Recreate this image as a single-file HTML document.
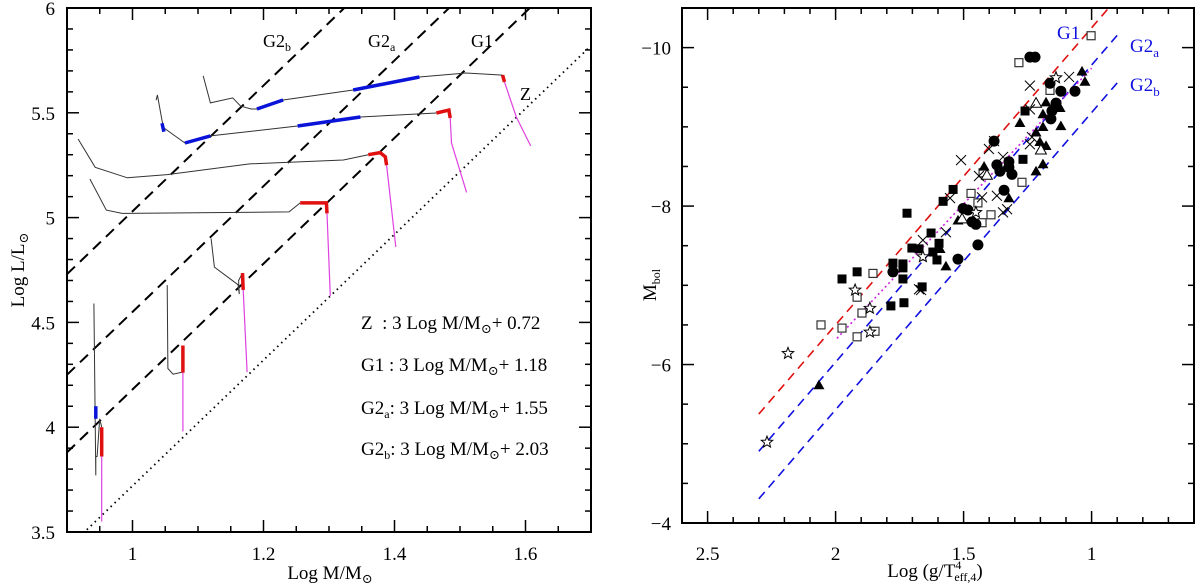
<!DOCTYPE html>
<html><head><meta charset="utf-8">
<style>
html,body{margin:0;padding:0;background:#fff;}
svg{display:block;font-family:"Liberation Serif","DejaVu Serif",serif;}
</style></head>
<body>
<svg id="fig" width="1200" height="583" viewBox="0 0 1200 583" xmlns="http://www.w3.org/2000/svg">
<g id="left"></g>
<g id="right"></g>
</svg>
<script>
// ---------- LEFT PANEL DATA ----------
const lineNames = ['Z','G1','G2a','G2b'];
const lineIntercepts = [0.72, 1.18, 1.55, 2.03];
const lineSlope = 3;
const leftXTicks = [1, 1.2, 1.4, 1.6];
const leftYTicks = [3.5, 4, 4.5, 5, 5.5, 6];
// tracks: gray path, blue segments, red segments, magenta path (x = log M, y = log L)
const track1Gray = [[1.108,5.676],[1.119,5.547],[1.153,5.571],[1.165,5.532],[1.181,5.518],[1.190,5.518],[1.230,5.561],[1.337,5.609],[1.438,5.671],[1.509,5.69],[1.565,5.680]];
const track1Blue = [[[1.190,5.518],[1.230,5.561]],[[1.337,5.609],[1.438,5.671]]];
const track1Red = [[[1.565,5.680],[1.568,5.647]]];
const track1Mag = [[1.568,5.647],[1.586,5.48],[1.608,5.342]];
const track2Gray = [[1.036,5.56],[1.038,5.585],[1.047,5.43],[1.080,5.356],[1.119,5.39],[1.252,5.437],[1.348,5.48],[1.464,5.499]];
const track2Blue = [[[1.045,5.45],[1.048,5.41]],[[1.080,5.356],[1.119,5.39]],[[1.252,5.437],[1.348,5.48]]];
const track2Red = [[[1.464,5.499],[1.483,5.513],[1.485,5.475]]];
const track2Mag = [[1.485,5.475],[1.487,5.356],[1.510,5.12]];
const track3Gray = [[0.917,5.375],[0.943,5.24],[0.992,5.19],[1.053,5.205],[1.179,5.256],[1.322,5.275],[1.360,5.30]];
const track3Blue = [];
const track3Red = [[[1.360,5.30],[1.378,5.31],[1.386,5.29],[1.388,5.25]]];
const track3Mag = [[1.388,5.25],[1.402,4.86]];
const track4Gray = [[0.935,5.184],[0.960,5.036],[0.984,5.02],[1.239,5.027],[1.256,5.07]];
const track4Blue = [];
const track4Red = [[[1.256,5.07],[1.296,5.07],[1.297,5.02]]];
const track4Mag = [[1.297,5.02],[1.302,4.626]];
const track5Gray = [[1.120,4.90],[1.125,4.764],[1.161,4.68],[1.163,4.635],[1.162,4.70],[1.168,4.735]];
const track5Blue = [];
const track5Red = [[[1.168,4.735],[1.169,4.655]]];
const track5Mag = [[1.169,4.655],[1.175,4.263]];
const track6Gray = [[1.053,4.678],[1.054,4.28],[1.062,4.253],[1.076,4.263]];
const track6Blue = [];
const track6Red = [[[1.077,4.39],[1.077,4.26]]];
const track6Mag = [[1.077,4.26],[1.077,3.98]];
const track7Gray = [[0.941,4.59],[0.944,3.77],[0.944,3.86],[0.946,3.86],[0.950,4.04],[0.953,4.0]];
const track7Blue = [[[0.944,4.10],[0.944,4.04]]];
const track7Red = [[[0.953,4.0],[0.953,3.86]]];
const track7Mag = [[0.953,3.86],[0.953,3.55]];

// ---------- RIGHT PANEL DATA ----------
const rightXTicks = [2.5, 2, 1.5, 1];
const rightYTicks = [-10, -8, -6, -4];
const fitNames = ['G1','G2a','G2b'];
const fitIntercepts = [-14.0, -13.53, -12.93];
const fitSlope = 3.75;
const magentaFit = [[1.995,-6.33],[1.0,-9.74]];
const filledSquares = [[1.721,-7.91],[1.975,-7.08],[1.916,-7.17],[1.776,-7.28],[1.737,-7.27],[1.737,-7.22],[1.737,-7.08],[1.702,-7.47],[1.674,-7.46],[1.627,-7.66],[1.62,-7.42],[1.604,-7.32],[1.596,-7.53],[1.784,-6.74],[1.733,-6.78],[1.662,-6.98],[1.58,-8.06],[1.541,-8.21],[1.268,-8.59],[1.26,-9.20]];
const filledCircles = [[1.776,-7.17],[1.522,-7.33],[1.444,-7.51],[1.502,-7.97],[1.483,-7.95],[1.467,-7.80],[1.452,-7.77],[1.381,-8.82],[1.370,-8.52],[1.358,-8.44],[1.323,-8.56],[1.323,-8.49],[1.311,-8.40],[1.342,-8.20],[1.241,-9.88],[1.221,-9.88],[1.1625,-9.55],[1.120,-9.45],[1.065,-9.45],[1.139,-9.30],[1.155,-9.20],[1.159,-9.10]];
const filledTriangles = [[1.0375,-9.70],[1.026,-9.57],[1.178,-9.31],[1.190,-9.16],[1.280,-9.05],[1.120,-9.01],[1.190,-9.00],[1.217,-8.93],[1.202,-8.81],[1.178,-8.76],[1.420,-8.50],[1.217,-8.44],[1.190,-8.53],[1.323,-8.10],[1.522,-7.82],[1.592,-7.46],[1.569,-7.24],[1.123,-9.24],[2.065,-5.74]];
const openTriangles = [[1.217,-9.30],[1.198,-8.71],[1.409,-8.39],[1.506,-7.84]];
const openSquares = [[1.002,-10.15],[1.284,-9.81],[1.1625,-9.46],[1.424,-8.42],[1.272,-8.30],[1.471,-8.16],[1.444,-8.04],[1.393,-7.89],[1.428,-7.79],[1.854,-7.15],[1.916,-6.85],[2.057,-6.50],[1.975,-6.46],[1.897,-6.65],[1.916,-6.35],[1.846,-6.42]];
const crosses = [[1.241,-9.52],[1.088,-9.63],[1.241,-9.22],[1.233,-8.87],[1.241,-8.78],[1.381,-8.82],[1.401,-8.72],[1.510,-8.58],[1.346,-8.62],[1.440,-8.38],[1.370,-8.13],[1.553,-8.10],[1.428,-8.11],[1.346,-7.92],[1.330,-7.96],[1.659,-7.57],[1.569,-7.67],[1.674,-6.95],[1.666,-6.94]];
const stars = [[1.924,-6.94],[1.866,-6.71],[2.186,-6.14],[2.268,-5.02],[1.866,-6.41],[1.659,-7.36],[1.139,-9.62],[1.452,-7.92]];

const NS='http://www.w3.org/2000/svg';
function mk(parent, tag, attrs, text){
  const e=document.createElementNS(NS,tag);
  for(const k in attrs) e.setAttribute(k,attrs[k]);
  if(text!==undefined) e.textContent=text;
  parent.appendChild(e); return e;
}

// ===== LEFT AXES =====
const L={x0:67,x1:591,y0:8,y1:532,xmin:0.9,xmax:1.7,ymin:3.5,ymax:6};
const lx=v=>L.x0+(v-L.xmin)/(L.xmax-L.xmin)*(L.x1-L.x0);
const ly=v=>L.y1-(v-L.ymin)/(L.ymax-L.ymin)*(L.y1-L.y0);
const gl=document.getElementById('left');

// clip
const defs=mk(document.getElementById('fig'),'defs',{});
const cpL=mk(defs,'clipPath',{id:'clipL'}); mk(cpL,'rect',{x:L.x0,y:L.y0,width:L.x1-L.x0,height:L.y1-L.y0});
const R={x0:682,x1:1194,y0:8,y1:523,xmin:2.6,xmax:0.6,ymin:-4,ymax:-10.5};
const cpR=mk(defs,'clipPath',{id:'clipR'}); mk(cpR,'rect',{x:R.x0,y:R.y0,width:R.x1-R.x0,height:R.y1-R.y0});

// ticks left
for(let i=0;i<=16;i++){
  const v=0.9+i*0.05; const X=lx(v); const major=Math.abs((v*10)%2)<0.01||Math.abs((v*10)%2-2)<0.01;
  const len=major?12:6;
  const t1=mk(gl,'line',{x1:X,y1:L.y1,x2:X,y2:L.y1-len,stroke:'#000','stroke-width':1.5});
   
  mk(gl,'line',{x1:X,y1:L.y0,x2:X,y2:L.y0+len,stroke:'#000','stroke-width':1.5});
}
for(let i=0;i<=25;i++){
  const v=3.5+i*0.1; const Y=ly(v); const major=i%5===0; const len=major?12:6;
  mk(gl,'line',{x1:L.x0,y1:Y,x2:L.x0+len,y2:Y,stroke:'#000','stroke-width':1.5});
  mk(gl,'line',{x1:L.x1,y1:Y,x2:L.x1-len,y2:Y,stroke:'#000','stroke-width':1.5});
}
leftXTicks.forEach(v=>{
  const t=mk(gl,'text',{x:lx(v),y:560,'font-size':19,'text-anchor':'middle'},String(v));
   
});
leftYTicks.forEach(v=>{
  const t=mk(gl,'text',{x:55,y:ly(v)+7,'font-size':19,'text-anchor':'end'},String(v));
   
});
let xt=mk(gl,'text',{x:330,y:579,'font-size':19,'text-anchor':'middle'});
 
xt.innerHTML='Log M/M<tspan font-size="13" dy="4">⊙</tspan>';
let yt=mk(gl,'text',{transform:'translate(24,270) rotate(-90)','font-size':19,'text-anchor':'middle'});
 
yt.innerHTML='Log L/L<tspan font-size="13" dy="4">⊙</tspan>';

// reference lines
const gLines=mk(gl,'g',{'clip-path':'url(#clipL)'});
lineIntercepts.forEach((c,i)=>{
  const a=0.9,b=1.7;
  const ln=mk(gLines,'line',{x1:lx(a),y1:ly(lineSlope*a+c),x2:lx(b),y2:ly(lineSlope*b+c),stroke:'#000','stroke-width':i===0?1.8:2,'stroke-dasharray':i===0?'1.5 4':'11 7'});
   
});
// tracks
const pts=a=>a.map(p=>lx(p[0]).toFixed(1)+','+ly(p[1]).toFixed(1)).join(' ');
const tracks=[[track1Gray,track1Blue,track1Red,track1Mag],[track2Gray,track2Blue,track2Red,track2Mag],[track3Gray,track3Blue,track3Red,track3Mag],[track4Gray,track4Blue,track4Red,track4Mag],[track5Gray,track5Blue,track5Red,track5Mag],[track6Gray,track6Blue,track6Red,track6Mag],[track7Gray,track7Blue,track7Red,track7Mag]];
tracks.forEach((t,i)=>{
  const g=mk(gl,'g',{});  
  mk(g,'polyline',{points:pts(t[3]),fill:'none',stroke:'#e040e0','stroke-width':1.2});
  mk(g,'polyline',{points:pts(t[0]),fill:'none',stroke:'#333','stroke-width':1});
  t[1].forEach(s=>mk(g,'polyline',{points:pts(s),fill:'none',stroke:'#0a14d8','stroke-width':3.5}));
  t[2].forEach(s=>mk(g,'polyline',{points:pts(s),fill:'none',stroke:'#e01010','stroke-width':3.5}));
});
mk(gl,'rect',{x:L.x0,y:L.y0,width:L.x1-L.x0,height:L.y1-L.y0,fill:'none',stroke:'#000','stroke-width':2});
// line labels
[['G2','b',263],['G2','a',368],['G1','',471]].forEach(([m,s,x])=>{
  const t=mk(gl,'text',{x:x,y:47,'font-size':18});
   
  t.innerHTML=m+(s?'<tspan font-size="12" dy="4">'+s+'</tspan>':'');
});
let zl=mk(gl,'text',{x:520,y:100,'font-size':18},'Z');
 
// legend
const legRows=[['Z&#160;&#160;: ','0.72',322],['G1 : ','1.18',364],['G2<tspan font-size="12" dy="4">a</tspan><tspan dy="-4">: </tspan>','1.55',407],['G2<tspan font-size="12" dy="4">b</tspan><tspan dy="-4">: </tspan>','2.03',448]];
legRows.forEach(r=>{
  const t=mk(gl,'text',{x:361,y:r[2]+7,'font-size':19,'xml:space':'preserve'});
   
  t.innerHTML=r[0]+'3 Log M/M<tspan font-size="13" dy="4">⊙</tspan><tspan dy="-4">+ '+r[1]+'</tspan>';
});

// ===== RIGHT AXES =====
const rx=v=>R.x0+(v-R.xmin)/(R.xmax-R.xmin)*(R.x1-R.x0);
const ry=v=>R.y1-(v-R.ymin)/(R.ymax-R.ymin)*(R.y1-R.y0);
const gr=document.getElementById('right');
for(let i=0;i<=20;i++){
  const v=2.6-i*0.1; const X=rx(v); const major=(i%5)===1; const len=major?12:6;
  mk(gr,'line',{x1:X,y1:R.y1,x2:X,y2:R.y1-len,stroke:'#000','stroke-width':1.5});
  mk(gr,'line',{x1:X,y1:R.y0,x2:X,y2:R.y0+len,stroke:'#000','stroke-width':1.5});
}
for(let i=0;i<=13;i++){
  const v=-4-i*0.5; const Y=ry(v); const major=(i%4)===0; const len=major?12:6;
  mk(gr,'line',{x1:R.x0,y1:Y,x2:R.x0+len,y2:Y,stroke:'#000','stroke-width':1.5});
  mk(gr,'line',{x1:R.x1,y1:Y,x2:R.x1-len,y2:Y,stroke:'#000','stroke-width':1.5});
}
rightXTicks.forEach(v=>{
  const t=mk(gr,'text',{x:rx(v),y:560,'font-size':19,'text-anchor':'middle'},String(v));
   
});
rightYTicks.forEach(v=>{
  const t=mk(gr,'text',{x:671,y:ry(v)+7,'font-size':19,'text-anchor':'end'},'\u2212'+Math.abs(v));
   
});
let xt2=mk(gr,'text',{x:935,y:577,'font-size':19,'text-anchor':'middle'});
 
xt2.innerHTML='Log (g/T<tspan font-size="12" dy="-8">4</tspan><tspan font-size="12" dx="-7" dy="12">eff,4</tspan><tspan dy="-4">)</tspan>';
let yt2=mk(gr,'text',{transform:'translate(656,285) rotate(-90)','font-size':19,'text-anchor':'middle'});
 
yt2.innerHTML='M<tspan font-size="12" dy="4">bol</tspan>';

const gFit=mk(gr,'g',{'clip-path':'url(#clipR)'});
const fitColors=['#e01010','#1010e0','#1010e0'];
const fitEnds=[0.93,0.885,0.89];
fitIntercepts.forEach((c,i)=>{
  const a=2.3,b=fitEnds[i];
  const ln=mk(gFit,'line',{x1:rx(a),y1:ry(fitSlope*a+c),x2:rx(b),y2:ry(fitSlope*b+c),stroke:fitColors[i],'stroke-width':1.6,'stroke-dasharray':'9 6'});
   
});
const mf=mk(gFit,'line',{x1:rx(magentaFit[0][0]),y1:ry(magentaFit[0][1]),x2:rx(magentaFit[1][0]),y2:ry(magentaFit[1][1]),stroke:'#d020e0','stroke-width':1.6,'stroke-dasharray':'2 3'});
 

const gm=mk(gr,'g',{});  
filledSquares.forEach(p=>{const e=mk(gm,'rect',{x:rx(p[0])-4.5,y:ry(p[1])-4.5,width:9,height:9,fill:'#000'});
   });
openSquares.forEach(p=>{const e=mk(gm,'rect',{x:rx(p[0])-4,y:ry(p[1])-4,width:8,height:8,fill:'#fff',stroke:'#333','stroke-width':1.2});
   });
filledCircles.forEach(p=>{const e=mk(gm,'circle',{cx:rx(p[0]),cy:ry(p[1]),r:5.5,fill:'#000'});
   });
const tri=(x,y,s)=>`${x},${y-s} ${x-s},${y+s*0.75} ${x+s},${y+s*0.75}`;
filledTriangles.forEach(p=>{const e=mk(gm,'polygon',{points:tri(rx(p[0]),ry(p[1]),5.5),fill:'#000'});
   });
openTriangles.forEach(p=>{const e=mk(gm,'polygon',{points:tri(rx(p[0]),ry(p[1]),5.5),fill:'#fff',stroke:'#000','stroke-width':1});
   });
crosses.forEach(p=>{const x=rx(p[0]),y=ry(p[1]);const e=mk(gm,'path',{d:`M${x-5},${y-5}L${x+5},${y+5}M${x-5},${y+5}L${x+5},${y-5}`,stroke:'#000','stroke-width':1,fill:'none'});
   });
const starPts=(x,y,R1,r1)=>{let s=[];for(let k=0;k<10;k++){const a=-Math.PI/2+k*Math.PI/5;const rr=k%2?r1:R1;s.push((x+rr*Math.cos(a)).toFixed(1)+','+(y+rr*Math.sin(a)).toFixed(1));}return s.join(' ');};
stars.forEach(p=>{const e=mk(gm,'polygon',{points:starPts(rx(p[0]),ry(p[1]),6,2.6),fill:'#fff',stroke:'#000','stroke-width':1});
   });

mk(gr,'rect',{x:R.x0,y:R.y0,width:R.x1-R.x0,height:R.y1-R.y0,fill:'none',stroke:'#000','stroke-width':2});
[['G1','',1057,39],['G2','a',1130,52],['G2','b',1130,91]].forEach(([m,s,x,y])=>{
  const t=mk(gr,'text',{x:x,y:y,'font-size':19,fill:'#1010e0'});
   
  t.innerHTML=m+(s?'<tspan font-size="13" dy="5">'+s+'</tspan>':'');
});
</script>
</body></html>
